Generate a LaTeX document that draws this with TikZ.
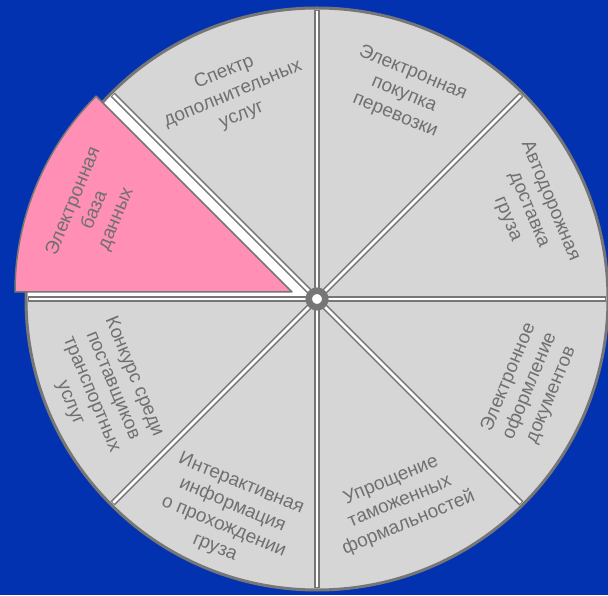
\documentclass[tikz,border=0pt]{standalone}
\usepackage{fontspec}
\setmainfont{Liberation Sans}
\definecolor{bgblue}{RGB}{2,50,176}
\definecolor{sectorgray}{RGB}{214,214,214}
\definecolor{edgegray}{RGB}{118,118,118}
\definecolor{textgray}{RGB}{112,112,112}
\definecolor{pinkfill}{RGB}{255,143,180}
\begin{document}
\begin{tikzpicture}[x=1pt,y=1pt,
  lbl/.style={font=\fontsize{19}{23}\selectfont, text=textgray, align=center, inner sep=0pt},
  sepout/.style={line width=6pt, draw=edgegray},
  sepin/.style={line width=2.6pt, draw=white},
  rim/.style={draw=edgegray, line width=3pt},
  hubstyle/.style={circle, fill=white, draw=edgegray, line width=6.5pt, minimum size=16.5pt, inner sep=0pt}]
\fill[bgblue] (0,0) rectangle (608,595);
\useasboundingbox (0,0) rectangle (608,595);
\coordinate (C) at (317,296);
\coordinate (P) at (292,303);
% disk
\fill[sectorgray] (C) circle (291pt);
% wedge left by the pulled-out sector
\fill[white] (C) -- ++(135:291pt) arc[start angle=135, end angle=180, radius=291pt] -- cycle;
\draw[rim] (C) circle (291pt);
% separators
\foreach \a in {0,45,90,135,180,225,270,315}{
  \draw[sepout] (C) -- ++(\a:289pt);
}
\foreach \a in {0,45,90,135,180,225,270,315}{
  \draw[sepin] (C) -- ++(\a:288pt);
}
% pulled-out pink sector
\filldraw[fill=pinkfill, draw=edgegray, line width=1.5pt, line join=round]
  (P) -- ++(135:277pt) arc[start angle=135, end angle=180, radius=277pt] -- cycle;
% hub
\node[hubstyle] (hub) at (C) {};
% labels
\node[lbl, rotate=22.5] (s1) at (233,501) {Спектр\\дополнительных\\услуг};
\node[lbl, rotate=-22.5] (s2) at (404,501) {Электронная\\покупка\\перевозки};
\node[lbl, rotate=-67.5] (s3) at (529,385) {Автодорожная\\доставка\\груза};
\node[lbl, rotate=67.5] (s4) at (530,209) {Электронное\\оформление\\документов};
\node[lbl, rotate=22.5] (s5) at (400,93) {Упрощение\\таможенных\\формальностей};
\node[lbl, rotate=-22.5] (s6) at (228,79) {Интерактивная\\информация\\о прохождении\\груза};
\node[lbl, rotate=-67.5] (s7) at (102,205) {Конкурс среди\\поставщиков\\транспортных\\услуг};
\node[lbl, rotate=67.5] (s8) at (95,385) {Электронная\\база\\данных};
\end{tikzpicture}
\end{document}
